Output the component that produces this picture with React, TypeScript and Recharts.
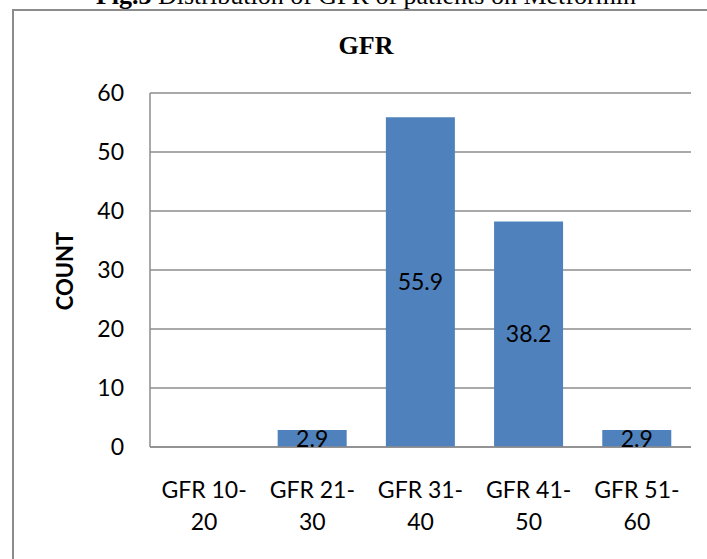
import React from 'react';
import { BarChart, Bar, XAxis, YAxis, CartesianGrid, LabelList } from 'recharts';

const categories = ['GFR 10-20', 'GFR 21-30', 'GFR 31-40', 'GFR 41-50', 'GFR 51-60'];
const counts = [0, 2.9, 55.9, 38.2, 2.9];
const yTicks = [0, 10, 20, 30, 40, 50, 60];

const data = categories.map((name, i) => ({ name, count: counts[i] }));

const BAR_COLOR = '#4F81BD';
const GRID_COLOR = '#8c8c8c';
const SANS = 'Lato, "Open Sans", sans-serif';
const SERIF = '"Liberation Serif", "Times New Roman", serif';

// split "GFR 10-20" into "GFR 10-" / "20" like the wrapped Excel labels
const XTick: React.FC<any> = ({ x, y, payload }) => {
  const label: string = payload.value;
  const cut = label.indexOf('-') + 1;
  return (
    <text textAnchor="middle" fontFamily={SANS} fontSize={23} fill="#000">
      <tspan x={x} y={y + 51}>{label.slice(0, cut)}</tspan>
      <tspan x={x} y={y + 83}>{label.slice(cut)}</tspan>
    </text>
  );
};

const App: React.FC = () => {
  return (
    <div style={{ position: 'relative', width: 707, height: 559, overflow: 'hidden', background: '#fff' }}>
      <style>{`body{margin:0;overflow:hidden}`}</style>
      <div
        style={{
          position: 'absolute',
          left: 12,
          top: 9,
          width: 760,
          height: 620,
          border: `2px solid ${GRID_COLOR}`,
          boxSizing: 'border-box',
        }}
      />
      <div style={{ position: 'absolute', left: 0, top: 0 }}>
        <BarChart
          width={707}
          height={559}
          data={data}
          margin={{ top: 93, right: 16, left: 90, bottom: 22 }}
          barCategoryGap="18%"
        >
          <CartesianGrid vertical={false} stroke={GRID_COLOR} strokeWidth={1.5} />
          <XAxis
            dataKey="name"
            height={90}
            tickLine={false}
            tickSize={0}
            tickMargin={0}
            axisLine={{ stroke: GRID_COLOR, strokeWidth: 1.5 }}
            tick={<XTick />}
            interval={0}
          />
          <YAxis
            width={60}
            domain={[0, 60]}
            ticks={yTicks}
            tickLine={false}
            tickSize={0}
            tickMargin={26}
            axisLine={{ stroke: GRID_COLOR, strokeWidth: 1.5 }}
            tick={{ fontFamily: SANS, fontSize: 23, fill: '#000' }}
          />
          <Bar dataKey="count" fill={BAR_COLOR} isAnimationActive={false}>
            <LabelList
              dataKey="count"
              position="center"
              formatter={(v: any) => (v === 0 ? '' : v)}
              style={{ fontFamily: SANS, fontSize: 23, fill: '#000' }}
            />
          </Bar>
        </BarChart>
      </div>
      <svg width={707} height={559} style={{ position: 'absolute', left: 0, top: 0, pointerEvents: 'none' }}>
        <text x={366} y={4} textAnchor="middle" fontFamily={SERIF} fontSize={26} fill="#000">
          <tspan fontWeight="bold">Fig.3</tspan> Distribution of GFR of patients on Metformin
        </text>
        <text x={366} y={54} textAnchor="middle" fontFamily={SERIF} fontSize={26} fontWeight="bold" fill="#000">
          GFR
        </text>
        <text
          x={64}
          y={271}
          textAnchor="middle"
          dominantBaseline="central"
          transform="rotate(-90 64 271)"
          fontFamily={SANS}
          fontSize={22}
          fontWeight="bold"
          fill="#000"
        >
          COUNT
        </text>
      </svg>
    </div>
  );
};

export default App;
